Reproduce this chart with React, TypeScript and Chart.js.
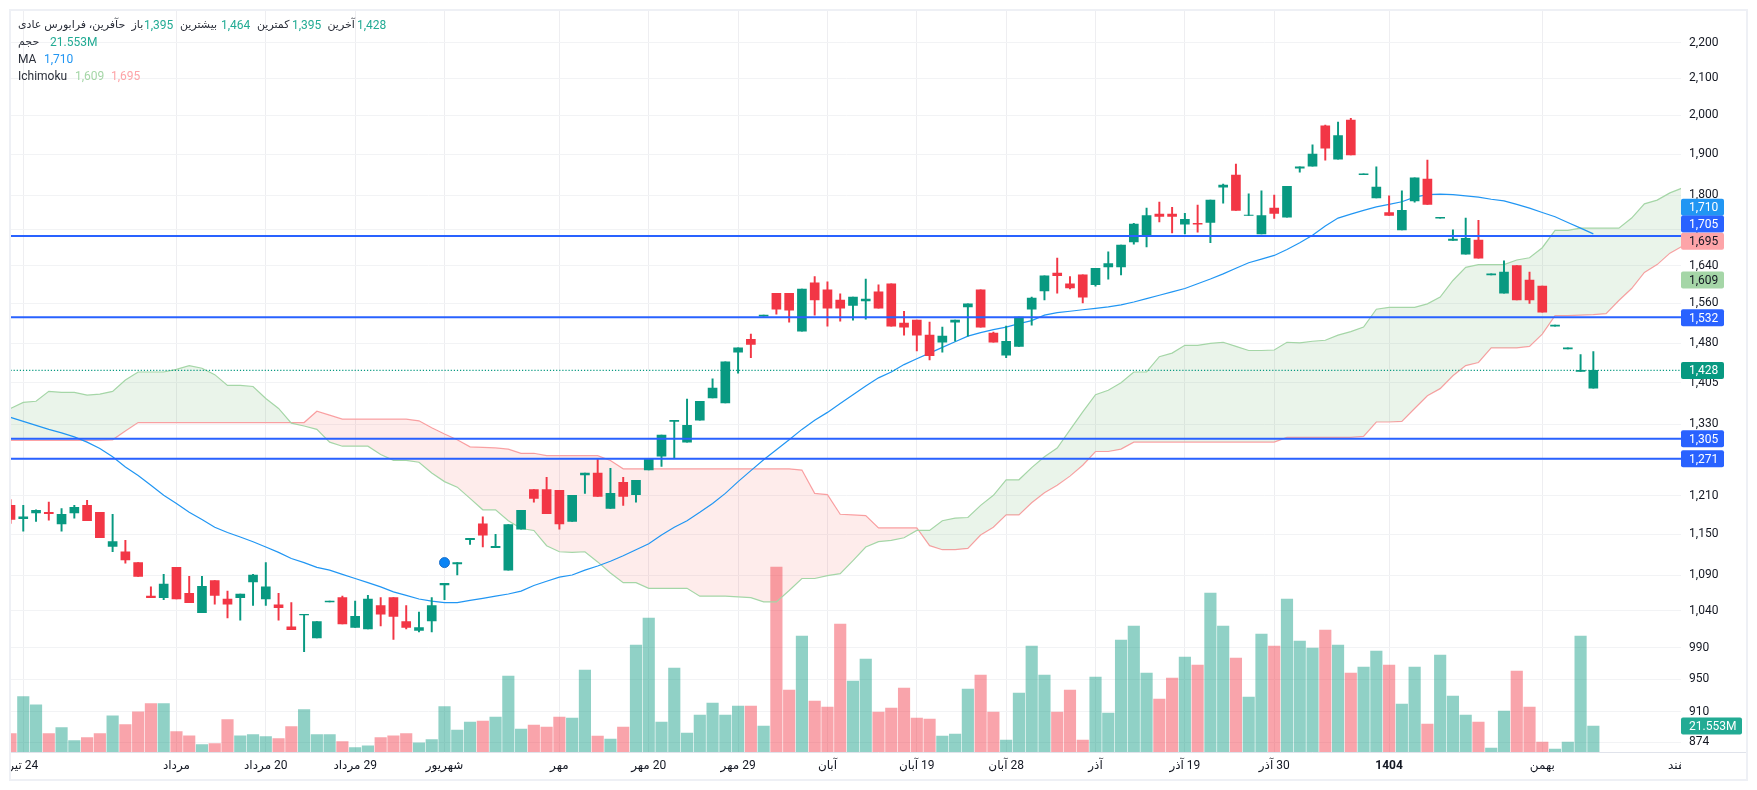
import React, { useEffect, useRef } from "react";
import { Chart, registerables } from "chart.js";

Chart.register(...registerables);

const FONT = "Roboto, 'DejaVu Sans', sans-serif";
const GREEN = "#089981";
const RED = "#f23645";
const LINE_BLUE = "#2962ff";

const opens = [1195,1174,1183,1184,1166,1183,1195,1184,1132,1124,1108,1060,1058,1101,1064,1037,1082,1056,1058,1080,1056,1048,1018,1034,1003,1052,1058,1017,1015,1047,1058,1025,1013,1026,1076,1106,1142,1166,1130,1097,1158,1220,1220,1219,1170,1244,1247,1190,1232,1212,1252,1275,1335,1299,1337,1377,1368,1463,1488,1534,1581,1581,1504,1603,1588,1567,1556,1565,1584,1601,1520,1526,1496,1482,1522,1553,1588,1500,1457,1474,1548,1586,1624,1601,1620,1599,1637,1637,1692,1705,1755,1755,1732,1734,1736,1819,1848,1752,1710,1769,1748,1865,1870,1972,1887,1987,1849,1793,1759,1719,1786,1838,1746,1695,1665,1696,1620,1581,1640,1609,1596,1514,1469,1426,1395];
const closes = [1173,1177,1187,1182,1181,1192,1171,1145,1139,1112,1088,1058,1077,1056,1051,1074,1061,1049,1063,1090,1073,1044,1014,1035,1025,1053,1022,1032,1056,1035,1032,1017,1017,1047,1078,1108,1144,1149,1132,1165,1187,1206,1182,1166,1211,1247,1209,1214,1209,1235,1271,1311,1337,1328,1371,1395,1444,1471,1478,1536,1548,1546,1590,1567,1550,1550,1573,1569,1550,1514,1512,1496,1456,1494,1526,1559,1512,1482,1484,1532,1571,1618,1618,1592,1573,1634,1644,1685,1732,1752,1750,1750,1743,1732,1788,1824,1764,1753,1752,1757,1821,1868,1900,1915,1947,1898,1851,1819,1752,1764,1841,1778,1748,1698,1700,1656,1622,1626,1567,1567,1542,1516,1471,1428,1428];
const highs = [1204,1195,1188,1200,1190,1195,1203,1184,1181,1141,1108,1073,1091,1101,1088,1088,1082,1067,1063,1091,1108,1064,1051,1035,1025,1053,1060,1053,1061,1058,1058,1047,1038,1058,1078,1108,1144,1177,1150,1165,1187,1220,1240,1219,1211,1247,1270,1255,1240,1235,1271,1311,1337,1375,1371,1412,1444,1471,1498,1536,1581,1581,1590,1616,1605,1580,1573,1611,1599,1601,1544,1526,1522,1512,1526,1559,1588,1502,1514,1532,1573,1618,1656,1616,1620,1634,1670,1685,1734,1769,1783,1771,1757,1776,1788,1826,1875,1803,1810,1800,1821,1868,1923,1974,1982,1992,1851,1868,1798,1810,1841,1885,1748,1719,1746,1741,1622,1650,1640,1626,1596,1516,1471,1458,1464];
const lows = [1167,1155,1170,1172,1155,1175,1171,1145,1124,1107,1088,1058,1055,1056,1051,1037,1049,1030,1027,1047,1047,1027,1014,985,1003,1052,1022,1017,1015,1019,1001,1015,1011,1011,1055,1090,1135,1131,1130,1097,1158,1200,1182,1158,1170,1214,1209,1190,1195,1200,1252,1258,1271,1299,1337,1377,1368,1423,1452,1534,1538,1522,1504,1536,1514,1524,1526,1528,1550,1514,1496,1465,1448,1463,1484,1494,1512,1482,1452,1474,1516,1567,1581,1590,1561,1596,1611,1620,1687,1681,1737,1712,1710,1714,1690,1781,1764,1752,1710,1745,1748,1855,1870,1885,1887,1898,1849,1793,1752,1719,1783,1778,1746,1695,1665,1656,1620,1581,1567,1560,1542,1514,1469,1426,1395];
const volumes = [15.2,45.9,39.2,15.2,20.2,9.4,11.9,15.2,30.1,22.7,33.4,40.1,40.1,16.9,13.5,6.1,6.9,26.8,13.5,14.4,12.7,11.1,21,35.1,14.4,14.4,8.6,3.6,5.2,11.9,13.5,15.2,7.7,10.2,37.6,18.2,24.9,25.7,29,63,19.1,22.4,20.7,29,28.2,68,13.3,10.8,20.7,88.7,111.1,24.9,69.6,15.7,30.7,40.6,30.7,38.1,38.1,21.6,153.3,51.4,96.2,42.3,37.3,106.1,58.9,77.1,33.2,36.5,53.1,28.2,27.4,13.3,14.9,52.2,63.8,33.2,9.9,48.9,87.9,63.8,33.2,51.4,9.9,62.2,32.3,92.8,104.4,65.5,43.9,61.3,78.7,72.1,131.8,104.4,77.9,45.6,97.8,87.9,126.8,92,86.2,101.1,88.7,65.5,70.5,83.7,72.1,39.8,70.5,23.2,80.4,46.4,30.7,24.9,3.3,34,67.1,37.3,8.3,2.5,8.3,96.2,21.553];
const movingAverage = [1342,1335,1328,1321,1315,1308,1299,1288,1274,1257,1243,1227,1211,1198,1184,1173,1161,1153,1146,1139,1131,1123,1114,1108,1101,1097,1091,1085,1079,1073,1066,1061,1056,1053,1051,1051,1054,1057,1060,1063,1067,1075,1081,1087,1090,1097,1103,1110,1118,1127,1136,1149,1161,1171,1184,1198,1214,1233,1251,1269,1286,1303,1321,1337,1351,1367,1383,1399,1414,1425,1439,1450,1461,1472,1483,1494,1501,1507,1512,1519,1525,1536,1541,1544,1547,1550,1553,1557,1563,1570,1577,1584,1591,1601,1611,1622,1634,1646,1654,1662,1675,1690,1707,1728,1746,1755,1764,1772,1778,1784,1795,1801,1802,1801,1798,1795,1790,1786,1778,1769,1759,1749,1736,1723,1710];
const spanA = [1358,1369,1371,1389,1387,1387,1382,1384,1389,1410,1425,1425,1425,1430,1437,1432,1420,1400,1400,1398,1376,1358,1332,1327,1321,1299,1292,1292,1292,1278,1268,1268,1265,1247,1233,1224,1206,1188,1188,1171,1159,1156,1133,1124,1123,1124,1109,1093,1079,1079,1071,1071,1071,1071,1060,1060,1060,1059,1058,1052,1052,1068,1085,1085,1089,1092,1111,1131,1139,1141,1145,1156,1156,1171,1175,1176,1195,1211,1236,1236,1256,1274,1289,1320,1352,1383,1391,1405,1425,1425,1454,1461,1476,1476,1480,1482,1474,1466,1466,1467,1482,1481,1484,1486,1496,1503,1512,1548,1552,1552,1552,1559,1573,1608,1636,1642,1642,1642,1652,1657,1679,1718,1718,1723,1723,1723,1723,1746,1779,1788,1805,1817];
const spanB = [1302,1302,1302,1302,1302,1302,1302,1302,1303,1318,1333,1333,1333,1333,1333,1333,1333,1333,1333,1333,1333,1333,1333,1333,1353,1346,1339,1339,1339,1339,1339,1339,1336,1324,1313,1303,1291,1290,1289,1287,1280,1280,1276,1276,1276,1276,1276,1268,1254,1254,1254,1254,1254,1254,1254,1254,1254,1254,1254,1254,1254,1254,1252,1214,1212,1181,1180,1179,1160,1160,1160,1160,1133,1127,1127,1129,1149,1161,1180,1180,1199,1215,1227,1242,1260,1283,1283,1287,1299,1299,1299,1299,1299,1299,1299,1299,1299,1299,1299,1299,1307,1307,1307,1307,1307,1307,1309,1334,1334,1335,1358,1381,1394,1418,1437,1443,1471,1471,1471,1474,1498,1535,1535,1536,1537,1539,1566,1591,1625,1642,1667,1683];
const levelPrices = [1705, 1532, 1305, 1271];
const lastClose = 1428;
const markerIndex = 34;
const markerPrice = 1108;

const priceTicks = [2200,2100,2000,1900,1800,1720,1640,1560,1480,1405,1330,1270,1210,1150,1090,1040,990,950,910,874];
const dateTicks = [1,13,20,27,34,43,50,57,64,71,78,85,92,99,108,120,131];
const dateLabels = ["24 تیر","مرداد","20 مرداد","29 مرداد","شهریور","مهر","20 مهر","29 مهر","آبان","19 آبان","28 آبان","آذر","19 آذر","30 آذر","1404","بهمن","اسفند"];
const boldTick = 108;

// price tags on the right, nudged where TradingView stacks them
const tags = [
  { text: "1,710", price: 1710, nudge: -26.7, bg: "#2196f3", fg: "#fff" },
  { text: "1,705", price: 1705, nudge: -12, bg: LINE_BLUE, fg: "#fff" },
  { text: "1,695", price: 1695, nudge: 0.8, bg: "#fda4a8", fg: "#131722" },
  { text: "1,609", price: 1609, nudge: 0, bg: "#a5d6a7", fg: "#131722" },
  { text: "1,532", price: 1532, nudge: 0.6, bg: LINE_BLUE, fg: "#fff" },
  { text: "1,428", price: 1428, nudge: 0, bg: GREEN, fg: "#fff" },
  { text: "1,305", price: 1305, nudge: 0, bg: LINE_BLUE, fg: "#fff" },
  { text: "1,271", price: 1271, nudge: 0, bg: LINE_BLUE, fg: "#fff" },
];

const TEXT = "#2a2e39";
const TEAL = "#22ab94";
const headerText: [string, number, number, string][] = [
  ["حآفرین، فرابورس عادی", 18, 25.5, TEXT],
  ["باز", 131.5, 25.5, TEXT],
  ["1,395", 144, 25.5, TEAL],
  ["بیشترین", 180, 25.5, TEXT],
  ["1,464", 221, 25.5, TEAL],
  ["کمترین", 257, 25.5, TEXT],
  ["1,395", 292, 25.5, TEAL],
  ["آخرین", 327.5, 25.5, TEXT],
  ["1,428", 357, 25.5, TEAL],
  ["حجم", 18, 42.5, TEXT],
  ["21.553M", 50, 42.5, TEAL],
  ["MA", 18, 59.5, TEXT],
  ["1,710", 44, 59.5, "#2196f3"],
  ["Ichimoku", 18, 76.5, TEXT],
  ["1,609", 75, 76.5, "#a5d6a7"],
  ["1,695", 111, 76.5, "#fda4a8"],
];

const overlay = {
  id: "overlay",
  afterDraw(chart: any) {
    const { ctx, scales, chartArea } = chart;
    ctx.save();
    // clip the date labels the way the pane does
    ctx.fillStyle = "#fff";
    ctx.fillRect(0, chartArea.bottom + 1, 10, 790 - chartArea.bottom);
    ctx.fillRect(1681, chartArea.bottom + 1, 70, 26);
    ctx.fillRect(1681, 10, 7.5, chartArea.bottom - 10);

    ctx.strokeStyle = "#e0e3eb";
    ctx.lineWidth = 1;
    ctx.beginPath();
    ctx.moveTo(10, 752.5);
    ctx.lineTo(1747, 752.5);
    ctx.stroke();
    ctx.strokeStyle = "#eef0f5";
    ctx.lineWidth = 2;
    ctx.strokeRect(10, 10, 1737, 770);

    ctx.textBaseline = "middle";
    ctx.textAlign = "left";
    headerText.forEach(([text, x, y, color]) => {
      ctx.font = (/[\u0600-\u06ff]/.test(text) ? "11px " : "12px ") + FONT;
      ctx.fillStyle = color;
      ctx.fillText(text, x, y);
    });

    ctx.font = "12px " + FONT;
    tags.forEach((t) => {
      const y = scales.y.getPixelForValue(t.price) + t.nudge;
      ctx.fillStyle = t.bg;
      ctx.beginPath();
      ctx.roundRect(1681, y - 8.5, 43, 17, 2);
      ctx.fill();
      ctx.fillStyle = t.fg;
      ctx.fillText(t.text, 1689, y + 1);
    });

    const volY = scales.yVol.getPixelForValue(volumes[volumes.length - 1]);
    ctx.fillStyle = TEAL;
    ctx.beginPath();
    ctx.roundRect(1681, volY - 8.5, 61, 17, 2);
    ctx.fill();
    ctx.fillStyle = "#fff";
    ctx.fillText("21.553M", 1689, volY + 1);
    ctx.restore();
  },
};

const App: React.FC = () => {
  const canvasRef = useRef<HTMLCanvasElement | null>(null);

  useEffect(() => {
    const canvas = canvasRef.current;
    if (!canvas) return;

    const xy = (values: number[]) => values.map((y, x) => ({ x, y }));
    const up = opens.map((o, i) => closes[i] >= o);
    const flat = (y: number) => [{ x: 0, y }, { x: 131, y }];

    const datasets: any[] = [
      {
        label: "Volume",
        yAxisID: "yVol",
        data: xy(volumes),
        backgroundColor: up.map((u) => (u ? "rgba(8,153,129,0.45)" : "rgba(242,54,69,0.45)")),
        barThickness: 11.5,
        order: 9,
      },
      {
        type: "line",
        label: "Span A",
        data: xy(spanA),
        borderColor: "#a5d6a7",
        borderWidth: 1.2,
        pointRadius: 0,
        order: 8,
        fill: { target: "+1", above: "rgba(67,160,71,0.115)", below: "rgba(244,67,54,0.1)" },
      },
      {
        type: "line",
        label: "Span B",
        data: xy(spanB),
        borderColor: "#fda4a8",
        borderWidth: 1.2,
        pointRadius: 0,
        order: 8,
      },
      {
        type: "line",
        label: "MA",
        data: xy(movingAverage),
        borderColor: "#2196f3",
        borderWidth: 1.2,
        pointRadius: 0,
        order: 7,
      },
      {
        type: "line",
        label: "Last",
        data: flat(lastClose),
        borderColor: GREEN,
        borderWidth: 1.3,
        borderDash: [1.2, 1.9],
        pointRadius: 0,
        order: 6,
      },
      {
        label: "Wicks",
        data: lows.map((l, x) => ({ x, y: [l, highs[x]] })),
        backgroundColor: up.map((u) => (u ? GREEN : RED)),
        barThickness: 1.3,
        order: 5,
      },
      {
        label: "Bodies",
        data: opens.map((o, x) => ({ x, y: [o, closes[x]] })),
        backgroundColor: up.map((u) => (u ? GREEN : RED)),
        barThickness: 9,
        order: 4,
      },
      ...levelPrices.map((p) => ({
        type: "line",
        label: String(p),
        data: flat(p),
        borderColor: LINE_BLUE,
        borderWidth: 2,
        pointRadius: 0,
        order: 3,
      })),
      {
        type: "line",
        label: "Marker",
        data: [{ x: markerIndex, y: markerPrice }],
        pointRadius: 5,
        pointBackgroundColor: "#0a84f5",
        pointBorderColor: "#1c6fc9",
        pointBorderWidth: 1,
        showLine: false,
        order: 1,
      },
    ];

    const chart = new Chart(canvas, {
      type: "bar",
      data: { datasets },
      plugins: [overlay],
      options: {
        animation: false,
        responsive: false,
        devicePixelRatio: 1,
        layout: { padding: { left: 10.5, top: 10.5, right: 10, bottom: 10 } },
        datasets: { bar: { grouped: false } },
        plugins: { legend: { display: false }, tooltip: { enabled: false } },
        scales: {
          x: {
            type: "linear",
            offset: false,
            min: 0,
            max: 131,
            border: { display: false },
            grid: {
              offset: false,
              color: (c: any) => (c.tick && c.tick.value === 131 ? "transparent" : "#eeeef1"),
              drawTicks: false,
            },
            ticks: {
              autoSkip: false,
              maxRotation: 0,
              padding: 7,
              color: "#131722",
              font: (c: any) => ({
                family: FONT,
                size: 12,
                weight: c.tick && c.tick.value === boldTick ? "bold" : "normal",
              }),
              callback: (v: any) => dateLabels[dateTicks.indexOf(v)] ?? "",
            },
            afterBuildTicks: (s: any) => {
              s.ticks = dateTicks.map((value) => ({ value }));
            },
            afterFit: (s: any) => {
              s.height = 28;
              s.paddingLeft = 0;
              s.paddingRight = 0;
            },
          },
          y: {
            type: "logarithmic",
            position: "right",
            min: 862.9,
            max: 2296.4,
            bounds: "data",
            border: { display: false },
            grid: { color: "#f2f3f5", drawTicks: false },
            ticks: {
              autoSkip: false,
              padding: 6.4,
              color: "#131722",
              font: { family: FONT, size: 12 },
              callback: (v: any) => Number(v).toLocaleString("en-US"),
            },
            afterBuildTicks: (s: any) => {
              s.ticks = priceTicks.map((value) => ({ value }));
            },
            afterFit: (s: any) => {
              s.width = 64.3;
              s.paddingTop = 0;
              s.paddingBottom = 0;
            },
          },
          yVol: { type: "linear", display: false, min: 0, max: 615 },
        },
      },
    } as any);

    return () => chart.destroy();
  }, []);

  return (
    <div style={{ position: "absolute", left: 0, top: 0, width: 1757, height: 790, background: "#fff" }}>
      <canvas ref={canvasRef} width={1757} height={790} style={{ display: "block", direction: "rtl" }} />
    </div>
  );
};

export default App;
